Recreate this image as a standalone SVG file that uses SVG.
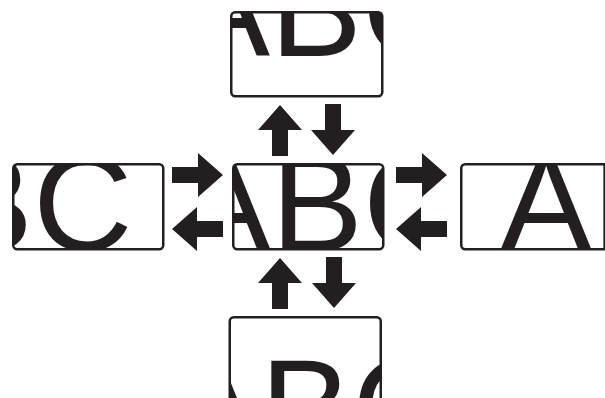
<svg xmlns="http://www.w3.org/2000/svg" xmlns:xlink="http://www.w3.org/1999/xlink" width="605" height="398" viewBox="0 0 605 398">
  <style>
    .box { fill: #ffffff; }
    .frame { fill: none; stroke: #231f20; stroke-width: 2.5; }
    .big { font-family: "Liberation Sans", Arial, sans-serif; font-size: 138px; fill: #231f20; }
    .arrow { fill: #231f20; }
  </style>
  <defs>
    <path id="arr" d="M0,0 L-25,-22 L-25,-8 L-51,-8 L-51,8 L-25,8 L-25,22 Z"/>
    <clipPath id="cTop"><rect x="231.25" y="12.25" width="151" height="84" rx="4"/></clipPath>
    <clipPath id="cCenter"><rect x="233.25" y="164.25" width="150" height="85" rx="4"/></clipPath>
    <clipPath id="cLeft"><rect x="13.25" y="164.25" width="150" height="85" rx="4"/></clipPath>
    <clipPath id="cRight"><rect x="461.25" y="164.25" width="150" height="85" rx="4"/></clipPath>
    <clipPath id="cBottom"><rect x="229.75" y="317.25" width="151" height="85" rx="4"/></clipPath>
  </defs>

  <g id="node-top">
    <rect class="box" x="231.25" y="12.25" width="151" height="84" rx="4"/>
    <g clip-path="url(#cTop)">
      <text class="big" x="178" y="56">ABC</text>
    </g>
    <rect class="frame" x="231.25" y="12.25" width="151" height="84" rx="4"/>
  </g>

  <g id="node-center">
    <rect class="box" x="233.25" y="164.25" width="150" height="85" rx="4"/>
    <g clip-path="url(#cCenter)">
      <text class="big" x="179" y="251">ABC</text>
    </g>
    <rect class="frame" x="233.25" y="164.25" width="150" height="85" rx="4"/>
  </g>

  <g id="node-left">
    <rect class="box" x="13.25" y="164.25" width="150" height="85" rx="4"/>
    <g clip-path="url(#cLeft)">
      <text class="big" x="-151" y="251">ABC</text>
    </g>
    <rect class="frame" x="13.25" y="164.25" width="150" height="85" rx="4"/>
  </g>

  <g id="node-right">
    <rect class="box" x="461.25" y="164.25" width="150" height="85" rx="4"/>
    <g clip-path="url(#cRight)">
      <text class="big" x="500" y="251">ABC</text>
    </g>
    <rect class="frame" x="461.25" y="164.25" width="150" height="85" rx="4"/>
  </g>

  <g id="node-bottom">
    <rect class="box" x="229.75" y="317.25" width="151" height="85" rx="4"/>
    <g clip-path="url(#cBottom)">
      <text class="big" x="168" y="455">ABC</text>
    </g>
    <rect class="frame" x="229.75" y="317.25" width="151" height="85" rx="4"/>
  </g>

  <g id="connectors" class="arrow">
    <use xlink:href="#arr" href="#arr" transform="translate(223,175)"/>
    <use xlink:href="#arr" href="#arr" transform="translate(172,229) rotate(180)"/>
    <use xlink:href="#arr" href="#arr" transform="translate(447,175)"/>
    <use xlink:href="#arr" href="#arr" transform="translate(396,229) rotate(180)"/>
    <use xlink:href="#arr" href="#arr" transform="translate(280,105) rotate(-90)"/>
    <use xlink:href="#arr" href="#arr" transform="translate(333,155) rotate(90)"/>
    <use xlink:href="#arr" href="#arr" transform="translate(280,258) rotate(-90)"/>
    <use xlink:href="#arr" href="#arr" transform="translate(334,308) rotate(90)"/>
  </g>
</svg>
